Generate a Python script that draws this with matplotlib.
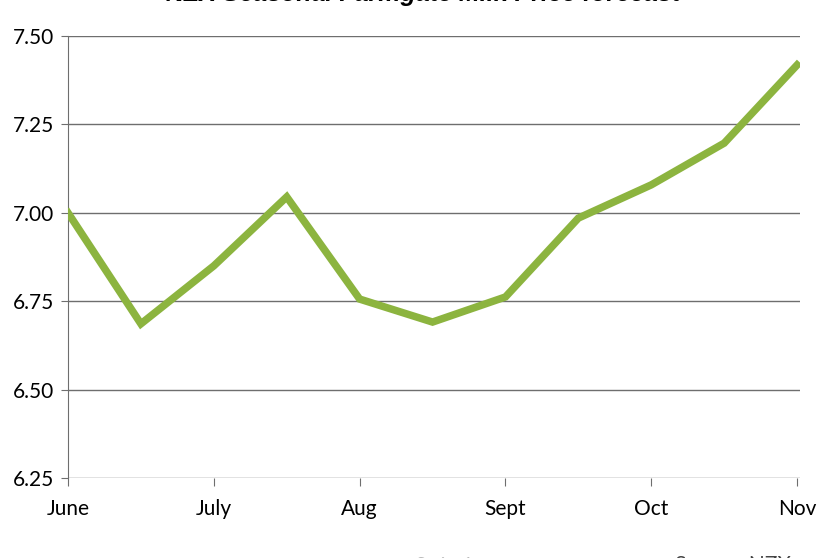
import matplotlib.pyplot as plt

# forecast points, two per month
months = ["June", "July", "Aug", "Sept", "Oct", "Nov"]
price = [7.00, 6.686, 6.85, 7.045, 6.756, 6.691, 6.762, 6.985, 7.079, 7.197, 7.418]
y_ticks = [6.25, 6.50, 6.75, 7.00, 7.25, 7.50]

plt.rcParams['font.family'] = ['Lato', 'DejaVu Sans']

fig = plt.figure(figsize=(8.38, 5.58), dpi=100)
ax = fig.add_axes([68/838, 1 - 478/558, (800-68)/838, (478-36)/558])

x = list(range(len(price)))
ax.plot(x, price, color='#8cb43f', lw=5.4, solid_joinstyle='miter', zorder=3)

ax.set_xlim(0, 10.04)
ax.set_ylim(6.25, 7.5)
ax.set_yticks(y_ticks)
ax.set_yticklabels([f"{v:.2f}" for v in y_ticks], fontsize=15)
ax.set_xticks(range(0, 11, 2))
ax.set_xticklabels(months, fontsize=15)
ax.grid(axis='y', color='#6e6e6e', lw=1)
ax.set_axisbelow(True)

for s in ['top', 'right', 'bottom']:
    ax.spines[s].set_visible(False)
ax.spines['left'].set_color('#6e6e6e')
ax.tick_params(axis='y', length=5, color='#6e6e6e', pad=5)
ax.tick_params(axis='x', length=6, color='#6e6e6e', pad=9)

# title and footer are cropped at the edges, as in the original
fig.text(0.505, 1.01, "NZX Seasonal Farmgate Milk Price forecast", ha='center', va='center',
         fontsize=18, fontweight='bold', style='italic', family='Liberation Sans')
fig.text(0.53, -0.012, "Series1", ha='center', va='center', fontsize=13, color='#bbbbbb')
fig.text(0.875, -0.012, "Source: NZX", ha='center', va='center', fontsize=15, color='#444444')

fig.savefig("out.png", dpi=100)
